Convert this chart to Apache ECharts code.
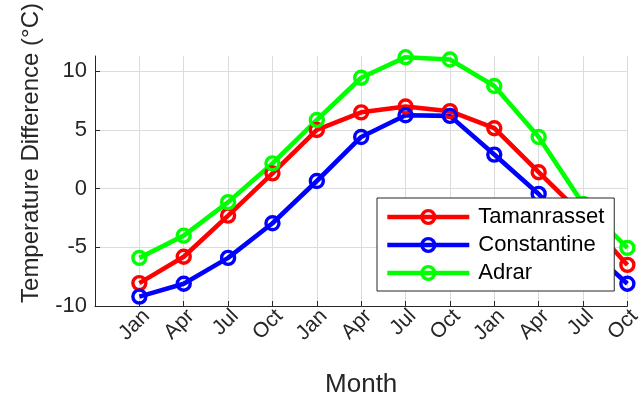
<!DOCTYPE html>
<html>
<head>
<meta charset="utf-8">
<script src="https://cdn.jsdelivr.net/npm/echarts@6/dist/echarts.min.js"></script>
<style>html,body{margin:0;padding:0;background:#fff;}#c{width:644px;height:408px;}</style>
</head>
<body>
<div id="c"></div>
<script>
const months = ['Jan','Apr','Jul','Oct','Jan','Apr','Jul','Oct','Jan','Apr','Jul','Oct'];
const tamanrasset = [-8.05, -5.8, -2.3, 1.3, 5.0, 6.5, 7.0, 6.6, 5.15, 1.4, -2.3, -6.5];
const constantine = [-9.2, -8.1, -5.9, -2.95, 0.65, 4.4, 6.25, 6.2, 2.9, -0.45, -4.7, -8.1];
const adrar = [-5.9, -4.0, -1.15, 2.15, 5.85, 9.45, 11.2, 11.0, 8.75, 4.4, -1.3, -5.05];
const yTicks = [-10, -5, 0, 5, 10];

const FONT = 'Liberation Sans, Arial, sans-serif';
const TXT = '#262626';

function mk(name, vals, color) {
  return {
    name: name,
    type: 'line',
    data: vals.map((v, i) => [i + 1, v]),
    symbol: 'circle',
    symbolSize: 13,
    lineStyle: { color: color, width: 4.6 },
    itemStyle: { color: 'rgba(255,255,255,0)', borderColor: color, borderWidth: 3.4 },
    emphasis: { disabled: true },
    animation: false,
    clip: false
  };
}

const chart = echarts.init(document.getElementById('c'), null, { renderer: 'canvas' });
chart.setOption({
  backgroundColor: '#ffffff',
  animation: false,
  textStyle: { fontFamily: FONT },
  grid: { left: 95, right: 16, top: 56, bottom: 102, containLabel: false },
  xAxis: {
    type: 'value', min: 0, max: 12, interval: 1,
    name: 'Month', nameLocation: 'middle', nameGap: 66,
    nameTextStyle: { fontFamily: FONT, fontSize: 26, color: TXT },
    axisLine: { show: true, onZero: false, lineStyle: { color: TXT, width: 1 } },
    axisTick: { show: true, inside: true, length: 5, lineStyle: { color: TXT } },
    splitLine: { show: true, lineStyle: { color: '#dcdcdc', width: 1 } },
    axisLabel: {
      rotate: 45, fontFamily: FONT, fontSize: 21, color: TXT, margin: 14,
      padding: [0, -10, 0, 0],
      formatter: v => (v >= 1 && v <= months.length && Number.isInteger(v)) ? months[v - 1] : ''
    }
  },
  yAxis: {
    type: 'value', min: -10, max: 11.3, interval: 5,
    name: 'Temperature Difference (°C)', nameLocation: 'middle', nameGap: 52,
    nameTextStyle: { fontFamily: FONT, fontSize: 24, color: TXT, padding: [0, 0, 0, 56] },
    axisLine: { show: true, lineStyle: { color: TXT, width: 1 } },
    axisTick: { show: true, inside: true, length: 5, lineStyle: { color: TXT } },
    splitLine: { show: true, showMaxLine: false, lineStyle: { color: '#dcdcdc', width: 1 } },
    axisLabel: {
      fontFamily: FONT, fontSize: 22, color: TXT, margin: 8, showMaxLabel: false,
      formatter: v => yTicks.includes(v) ? String(v) : ''
    }
  },
  legend: {
    orient: 'vertical', left: 377, top: 198,
    padding: [8, 10, 7, 8],
    itemWidth: 82, itemHeight: 16, itemGap: 6,
    backgroundColor: '#ffffff', borderColor: '#262626', borderWidth: 1,
    lineStyle: { width: 4.6 },
    itemStyle: { borderWidth: 3.4 },
    textStyle: { fontFamily: FONT, fontSize: 22, color: '#000', lineHeight: 22, padding: [0, 0, 0, 4] },
    data: ['Tamanrasset', 'Constantine', 'Adrar']
  },
  series: [
    mk('Tamanrasset', tamanrasset, '#ff0000'),
    mk('Constantine', constantine, '#0000ff'),
    mk('Adrar', adrar, '#00ff00')
  ]
});
</script>
</body>
</html>
